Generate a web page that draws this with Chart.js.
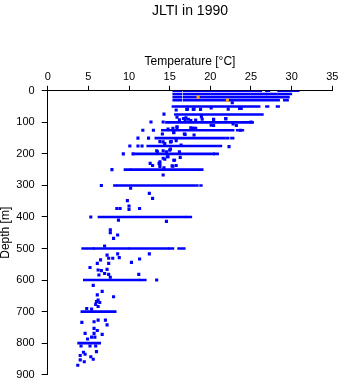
<!DOCTYPE html>
<html>
<head>
<meta charset="utf-8">
<script src="https://cdn.jsdelivr.net/npm/chart.js@4.4.1/dist/chart.umd.min.js"></script>
<style>
  html, body { margin: 0; padding: 0; background: #fff; }
</style>
</head>
<body>
<canvas id="chart" width="341" height="384"></canvas>
<script>
// JLTI temperature profiles, 1990

const xTicks = [0, 5, 10, 15, 20, 25, 30, 35];
const yTicks = [0, 100, 200, 300, 400, 500, 600, 700, 800, 900];

// standard depths where many casts overlap (drawn as dense runs)
const rowDepths = [0, 10, 20, 30, 50, 75, 100, 125, 150, 175, 200, 250, 300, 400, 500, 600, 700, 800];
// temperature ranges covered at each standard depth
const rowRanges = [
  [[15.5, 16.4], [16.8, 26.2], [26.9, 27.2], [28.4, 30.8]],
  [[15.5, 16.4], [16.8, 26.1], [26.3, 26.8], [27.0, 28.1], [28.4, 29.9]],
  [[15.5, 16.4], [16.8, 29.6]],
  [[15.5, 16.4], [16.8, 28.4], [29.1, 29.5]],
  [[15.4, 26.0], [26.9, 27.1], [28.2, 28.4]],
  [[15.7, 26.4]],
  [[14.6, 25.2]],
  [[14.1, 22.8], [23.3, 24.0]],
  [[13.3, 21.7], [22.0, 22.2], [22.6, 22.8]],
  [[12.3, 20.7], [21.0, 21.3]],
  [[10.8, 20.4], [20.5, 20.9]],
  [[9.5, 10.1], [10.3, 19.0]],
  [[8.2, 8.4], [8.6, 18.0], [18.3, 18.4], [18.8, 18.9]],
  [[6.3, 16.9], [17.1, 17.6]],
  [[4.3, 4.8], [5.1, 5.6], [5.7, 9.9], [10.1, 14.8], [15.0, 15.4], [16.1, 16.8]],
  [[4.5, 11.2], [11.4, 12.0]],
  [[4.2, 8.3]],
  [[3.8, 6.4]],
];

// single observations [temperature, depth]
const obs = [
  [22.7, 38], [17.1, 59], [17.9, 59], [18.8, 59], [22.2, 58], [23.6, 56], [20.1, 54], [23.8, 56],
  [15.8, 61], [17.2, 58], [18.0, 58], [14.3, 74],
  [18.9, 82], [21.9, 89], [20.4, 91], [18.2, 93], [16.9, 91], [15.9, 84], [19.0, 90], [20.4, 90], [21.9, 88],
  [16.7, 88], [17.0, 86], [17.3, 90], [17.6, 94], [16.2, 92],
  [12.7, 99], [14.2, 99], [25.0, 99],
  [20.4, 110], [23.2, 110], [20.1, 109], [22.8, 105], [15.9, 114], [14.8, 121], [15.4, 119], [17.6, 117], [18.0, 119], [18.2, 119],
  [11.7, 125], [13.0, 125], [23.7, 125],
  [15.9, 116], [17.8, 119], [15.5, 133], [16.8, 137], [18.0, 140], [15.5, 132], [16.9, 138], [14.1, 137],
  [11.1, 150], [12.4, 150],
  [13.8, 161], [14.4, 167], [15.2, 161], [15.8, 158], [16.4, 172], [14.2, 162], [15.1, 162],
  [10.1, 175], [11.1, 175], [11.6, 175], [22.3, 177],
  [13.4, 190], [14.2, 190], [15.0, 188], [16.2, 193], [15.1, 185], [13.5, 193], [14.6, 193],
  [9.3, 200], [10.5, 200],
  [14.8, 209], [16.3, 211], [14.4, 217], [15.5, 220], [14.7, 209], [14.2, 214], [15.6, 220],
  [12.6, 230], [12.9, 237], [13.7, 230], [15.4, 239], [15.8, 237], [13.8, 225], [13.8, 233], [13.8, 240], [14.3, 244], [15.3, 238],
  [7.9, 250], [14.2, 267], [6.6, 300], [10.2, 309],
  [12.5, 325], [12.9, 341], [9.8, 348], [10.0, 365], [8.5, 373], [8.9, 373], [10.0, 376], [11.3, 373],
  [5.3, 400], [8.7, 410], [14.6, 414],
  [7.7, 441], [7.7, 450], [8.6, 457], [8.1, 468], [7.0, 492],
  [7.3, 521], [8.6, 517], [12.5, 517], [6.5, 536], [7.5, 531], [8.0, 531], [8.8, 529], [11.3, 533],
  [6.1, 547], [7.5, 547], [10.3, 544], [5.2, 560], [6.2, 568], [6.6, 570], [7.3, 566], [7.0, 579], [6.3, 584], [7.5, 582], [11.2, 582], [7.7, 591],
  [13.4, 600],
  [5.6, 617], [6.7, 636], [6.1, 647], [8.1, 653], [6.2, 663], [6.0, 668], [6.4, 671], [5.9, 677], [6.2, 684], [4.8, 690], [5.4, 692],
  [4.2, 734], [5.7, 732], [6.2, 727], [7.1, 727], [7.3, 742], [5.7, 753], [6.1, 760], [4.6, 769], [5.7, 769], [6.7, 772], [4.9, 787], [5.4, 781], [5.8, 781],
  [4.1, 809], [5.2, 809], [5.9, 809], [6.0, 827], [4.4, 829], [4.6, 835], [4.0, 839], [5.3, 843], [5.6, 851], [4.0, 853], [4.5, 859], [3.7, 870],
];

// highlighted observations (orange)
const highlightTemps = [18.5, 22.1];
const highlightDepths = [20, 30];

const BLUE = "#0000ff";
const ORANGE = "#ffa500";
const FONT = "'Liberation Sans', Arial, sans-serif";

const datasets = [
  {
    data: highlightTemps.map((t, i) => ({ x: t, y: highlightDepths[i] })),
    backgroundColor: ORANGE,
    pointStyle: "rect",
    pointRadius: 2.2,
    pointBorderWidth: 0,
  },
  {
    data: obs.map(([t, d]) => ({ x: t, y: d })),
    backgroundColor: BLUE,
    pointStyle: "rect",
    pointRadius: 2.2,
    pointBorderWidth: 0,
  },
];

rowDepths.forEach((d, i) => {
  rowRanges[i].forEach(([t0, t1]) => {
    datasets.push({
      data: [{ x: t0, y: d }, { x: t1, y: d }],
      showLine: true,
      borderColor: BLUE,
      borderWidth: 2.6,
      borderCapStyle: "square",
      pointRadius: 0,
    });
  });
});

new Chart(document.getElementById("chart"), {
  type: "scatter",
  data: { datasets },
  options: {
    responsive: false,
    animation: false,
    events: [],
    layout: { padding: { left: 0, right: 8.7, top: 0, bottom: 9.3 } },
    plugins: {
      legend: { display: false },
      tooltip: { enabled: false },
      title: {
        display: true,
        text: "JLTI in 1990",
        fullSize: false,
        color: "#000",
        font: { family: FONT, size: 14, weight: "normal" },
        padding: { top: 3, bottom: 5 },
      },
    },
    scales: {
      x: {
        type: "linear",
        position: "top",
        min: 0,
        max: 35,
        afterBuildTicks: (s) => { s.ticks = xTicks.map((v) => ({ value: v })); },
        afterFit: (s) => {
          s.height = 66;
          s.paddingLeft = 0;
          s.paddingRight = 0;
        },
        ticks: { color: "#000", padding: 2, font: { family: FONT, size: 11 } },
        grid: { drawOnChartArea: false, tickLength: 5, color: "#000" },
        border: { color: "#000", width: 1 },
        title: {
          display: true,
          text: "Temperature [°C]",
          color: "#000",
          font: { family: FONT, size: 12 },
          padding: { top: 29.5, bottom: 0 },
        },
      },
      y: {
        type: "linear",
        reverse: true,
        min: 0,
        max: 900,
        afterBuildTicks: (s) => { s.ticks = yTicks.map((v) => ({ value: v })); },
        afterFit: (s) => {
          s.width = 47.7;
          s.paddingTop = 0;
          s.paddingBottom = 0;
        },
        ticks: { color: "#000", padding: 7, font: { family: FONT, size: 11 } },
        grid: { drawOnChartArea: false, tickLength: 6, color: "#000" },
        border: { color: "#000", width: 1 },
        title: {
          display: true,
          text: "Depth [m]",
          color: "#000",
          font: { family: FONT, size: 12, lineHeight: 1 },
          padding: 0,
        },
      },
    },
  },
});
</script>
</body>
</html>
